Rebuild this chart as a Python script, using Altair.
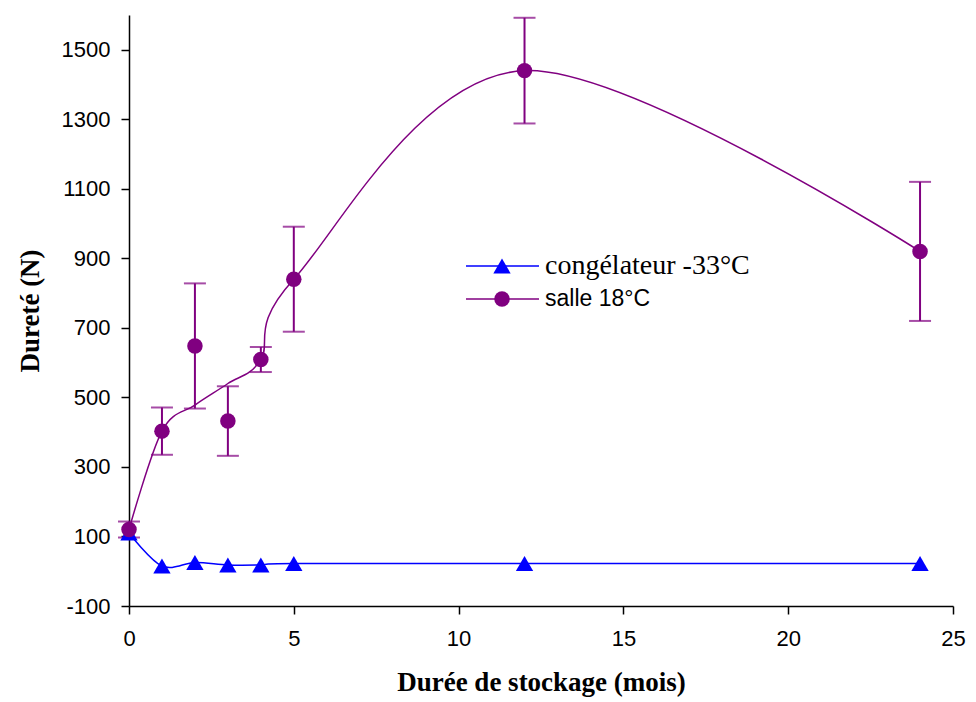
import altair as alt
import pandas as pd

# Data
mois = [0, 1, 2, 3, 4, 5, 12, 24]
salle_moy = [120, 403, 648, 432, 609, 840, 1440, 920]
salle_err = [23, 68, 180, 100, 36, 151, 152, 200]
salle_courbe = [120, 403, 478, 540, 609, 840, 1440, 920]
congel_moy = [110, 15, 25, 18, 18, 22, 22, 22]
x_ticks = [0, 5, 10, 15, 20, 25]
y_ticks = [-100, 100, 300, 500, 700, 900, 1100, 1300, 1500]

PURPLE = "#800080"
BLUE = "#0000FF"
SANS = "Liberation Sans"
SERIF = "Liberation Serif"

df_s = pd.DataFrame({
    "mois": mois,
    "moy": salle_moy,
    "courbe": salle_courbe,
    "lo": [m - e for m, e in zip(salle_moy, salle_err)],
    "hi": [m + e for m, e in zip(salle_moy, salle_err)],
})
df_c = pd.DataFrame({"mois": mois, "moy": congel_moy})

xs = alt.Scale(domain=[0, 25], nice=False)
ys = alt.Scale(domain=[-100, 1600], nice=False)

common = dict(grid=False, tickSize=8, labelFont=SANS, labelFontSize=22,
              titleFont=SERIF, titleFontSize=27, titleFontWeight="bold",
              domainColor="black", tickColor="black", labelColor="black",
              titleColor="black", domainWidth=1.5, tickWidth=1.5,
              labelFlush=False, labelExpr="datum.value + ''")
xax = alt.Axis(values=x_ticks, labelPadding=14,
               title="Durée de stockage (mois)", titlePadding=20, **common)
yax = alt.Axis(values=y_ticks, labelPadding=11, title="Dureté (N)",
               titlePadding=17, **common)

X = alt.X("mois:Q", scale=xs, axis=xax)

s_line = alt.Chart(df_s).mark_line(color=PURPLE, strokeWidth=1.5,
                                   interpolate="cardinal").encode(
    x=X, y=alt.Y("courbe:Q", scale=ys, axis=yax))
s_rule = alt.Chart(df_s).mark_rule(color=PURPLE, strokeWidth=2).encode(
    x="mois:Q", y=alt.Y("lo:Q", scale=ys), y2="hi:Q")
s_cap_lo = alt.Chart(df_s).mark_tick(color=PURPLE, orient="horizontal",
                                     size=22, thickness=2).encode(
    x="mois:Q", y=alt.Y("lo:Q", scale=ys))
s_cap_hi = alt.Chart(df_s).mark_tick(color=PURPLE, orient="horizontal",
                                     size=22, thickness=2).encode(
    x="mois:Q", y=alt.Y("hi:Q", scale=ys))

c_line = alt.Chart(df_c).mark_line(color=BLUE, strokeWidth=1.5,
                                   interpolate="cardinal").encode(
    x="mois:Q", y=alt.Y("moy:Q", scale=ys))
c_pts = alt.Chart(df_c).mark_point(shape="triangle-up", filled=True,
                                   color=BLUE, opacity=1, size=300).encode(
    x="mois:Q", y=alt.Y("moy:Q", scale=ys))
s_pts = alt.Chart(df_s).mark_point(shape="circle", filled=True,
                                   color=PURPLE, opacity=1, size=240).encode(
    x="mois:Q", y=alt.Y("moy:Q", scale=ys))

# Custom legend
leg_df = pd.DataFrame({"a": [0]})
leg = []
for row, (lab, col, shp, font, fsize) in enumerate([
        ("congélateur -33°C", BLUE, "triangle-up", SERIF, 28),
        ("salle 18°C", PURPLE, "circle", SANS, 23)]):
    yy = 251 + row * 33
    base = alt.Chart(leg_df)
    leg.append(base.mark_rule(color=col, strokeWidth=1.5).encode(
        x=alt.value(337), x2=alt.value(410), y=alt.value(yy)))
    leg.append(base.mark_point(shape=shp, filled=True, color=col, opacity=1,
                               size=300 if shp != "circle" else 240).encode(
        x=alt.value(373), y=alt.value(yy)))
    leg.append(base.mark_text(text=lab, align="left", baseline="middle",
                              font=font, fontSize=fsize, color="black").encode(
        x=alt.value(416), y=alt.value(yy)))

chart = alt.layer(s_line, s_rule, s_cap_lo, s_cap_hi, c_line, c_pts, s_pts,
                  *leg).properties(
    width=824, height=591,
    autosize=alt.AutoSizeParams(type="none"),
    padding={"left": 121, "top": 7, "right": 15, "bottom": 95},
).configure_view(stroke=None)

chart.save("out.html", embed_options={"renderer": "svg", "actions": False})
